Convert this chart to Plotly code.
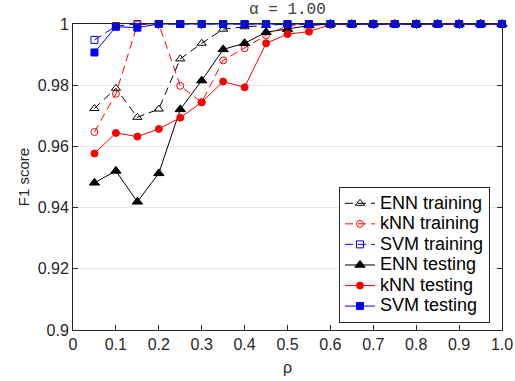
import plotly.graph_objects as go

# Fraction of labelled data (rho) and F1 scores for each classifier
rho = [0.05, 0.10, 0.15, 0.20, 0.25, 0.30, 0.35, 0.40, 0.45, 0.50,
       0.55, 0.60, 0.65, 0.70, 0.75, 0.80, 0.85, 0.90, 0.95, 1.00]

enn_train = [0.9724, 0.9790, 0.9695, 0.9722, 0.9886, 0.9937, 0.9983, 0.9991, 0.9995, 1.0,
             1.0, 1.0, 1.0, 1.0, 1.0, 1.0, 1.0, 1.0, 1.0, 1.0]
knn_train = [0.9647, 0.9772, 0.9998, 1.0, 0.9798, 0.9744, 0.9881, 0.9921, 0.9963, 0.9995,
             1.0, 1.0, 1.0, 1.0, 1.0, 1.0, 1.0, 1.0, 1.0, 1.0]
svm_train = [0.9948, 0.9993, 1.0, 1.0, 1.0, 1.0, 1.0, 1.0, 1.0, 1.0,
             1.0, 1.0, 1.0, 1.0, 1.0, 1.0, 1.0, 1.0, 1.0, 1.0]
enn_test = [0.9481, 0.9520, 0.9419, 0.9512, 0.9721, 0.9815, 0.9917, 0.9937, 0.9973, 0.9983,
            0.9995, 1.0, 1.0, 1.0, 1.0, 1.0, 1.0, 1.0, 1.0, 1.0]
knn_test = [0.9577, 0.9644, 0.9632, 0.9657, 0.9694, 0.9744, 0.9812, 0.9793, 0.9937, 0.9967,
            0.9975, 0.9998, 1.0, 1.0, 1.0, 1.0, 1.0, 1.0, 1.0, 1.0]
svm_test = [0.9907, 0.9991, 0.9988, 1.0, 1.0, 1.0, 1.0, 1.0, 1.0, 1.0,
            1.0, 1.0, 1.0, 1.0, 1.0, 1.0, 1.0, 1.0, 1.0, 1.0]

x_tick_vals = [0, 0.1, 0.2, 0.3, 0.4, 0.5, 0.6, 0.7, 0.8, 0.9, 1.0]
x_tick_text = ["0", "0.1", "0.2", "0.3", "0.4", "0.5", "0.6", "0.7", "0.8", "0.9", "1.0"]
y_tick_vals = [0.9, 0.92, 0.94, 0.96, 0.98, 1.0]
y_tick_text = ["0.9", "0.92", "0.94", "0.96", "0.98", "1"]

DASH = "8px,5px"
AX = "#262626"

series = [
    ("ENN training", enn_train, "black", DASH, "triangle-up-open", 8),
    ("kNN training", knn_train, "red", DASH, "circle-open", 7),
    ("SVM training", svm_train, "blue", DASH, "square-open", 7),
    ("ENN testing", enn_test, "black", "solid", "triangle-up", 9),
    ("kNN testing", knn_test, "red", "solid", "circle", 7),
    ("SVM testing", svm_test, "blue", "solid", "square", 7),
]

fig = go.Figure()
for name, vals, color, dash, symbol, size in series:
    fig.add_trace(go.Scatter(
        x=rho, y=vals, mode="lines+markers",
        # larger label text inside a compact legend row
        name=f"<span style='font-size:18px'>{name}</span>",
        line=dict(color=color, width=1, dash=dash),
        marker=dict(symbol=symbol, size=size, color=color,
                    line=dict(color=color, width=1)),
        cliponaxis=False,
    ))

font_family = "Liberation Sans, Arial, Helvetica, sans-serif"

fig.update_layout(
    width=515, height=381,
    margin=dict(l=73, r=13, t=24, b=51, autoexpand=False),
    paper_bgcolor="white", plot_bgcolor="white",
    font=dict(family=font_family, size=15, color=AX),
    showlegend=True,
    legend=dict(
        x=0.972, y=0.245, xanchor="right", yanchor="middle",
        bgcolor="white", bordercolor=AX, borderwidth=1,
        font=dict(family=font_family, size=13.5, color="black"),
        tracegroupgap=0, itemwidth=30,
    ),
    xaxis=dict(
        range=[0, 1], tickvals=x_tick_vals, ticktext=x_tick_text,
        ticks="inside", ticklen=5, tickcolor=AX, automargin=False,
        showline=True, linecolor=AX, linewidth=1, mirror="ticks",
        showgrid=False, zeroline=False,
        title=dict(text="ρ", font=dict(size=16, color=AX), standoff=9),
        tickfont=dict(size=16, color=AX),
    ),
    yaxis=dict(
        range=[0.9, 1.0], tickvals=y_tick_vals, ticktext=y_tick_text,
        ticks="inside", ticklen=5, tickcolor=AX, automargin=False,
        showline=True, linecolor=AX, linewidth=1, mirror="ticks",
        showgrid=True, gridcolor="#e6e6e6", gridwidth=1, zeroline=False,
        title=dict(text="F1 score", font=dict(size=15, color=AX), standoff=4),
        tickfont=dict(size=16, color=AX),
    ),
    annotations=[dict(
        text="α = 1.00", x=0.5, y=1, xref="paper", yref="paper",
        xanchor="center", yanchor="bottom", yshift=3, showarrow=False,
        font=dict(family="Liberation Mono, DejaVu Sans Mono, monospace",
                  size=16, color="#404040"),
    )],
)

fig.write_html("out.html")
